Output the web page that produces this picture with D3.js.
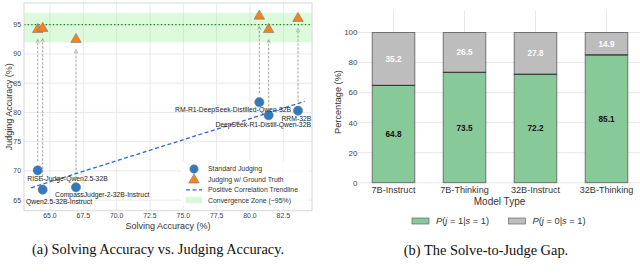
<!DOCTYPE html>
<html><head><meta charset="utf-8">
<script src="https://cdn.jsdelivr.net/npm/d3@7"></script>
<style>body{margin:0;background:#fff}svg{display:block}</style>
</head><body>
<svg id="c" width="640" height="278"></svg>
<script>
// ---------- data: left panel ----------
const models = ["RISE-Judge-Qwen2.5-32B","Qwen2.5-32B-Instruct","CompassJudger-2-32B-Instruct","RM-R1-DeepSeek-Distilled-Qwen-32B","DeepSeek-R1-Distill-Qwen-32B","RRM-32B"];
const solving = [64.08, 64.45, 66.95, 80.7, 81.4, 83.6];
const standardJudging = [70.1, 66.8, 67.2, 81.75, 79.5, 80.3];
const gtJudging = [94.3, 94.5, 92.6, 96.6, 94.3, 96.2];
const xTicksA = [65.0, 67.5, 70.0, 72.5, 75.0, 77.5, 80.0, 82.5];
const yTicksA = [65, 70, 75, 80, 85, 90, 95];
const zone = [92, 97];
const zoneLine = 95;
// ---------- data: right panel ----------
const modelTypes = ["7B-Instruct","7B-Thinking","32B-Instruct","32B-Thinking"];
const pJ1 = [64.8, 73.5, 72.2, 85.1];
const pJ0 = [35.2, 26.5, 27.8, 14.9];
const yTicksB = [0, 20, 40, 60, 80, 100];

const svg = d3.select("#c");
const SANS = "Liberation Sans, Arial, sans-serif";
const SERIF = "Liberation Serif, Times New Roman, serif";
const gridC = "#e8e8e8";

// ================= LEFT =================
const L = {l:24, r:312, t:3, b:210.7};
const x = d3.scaleLinear().domain([63.05, 84.65]).range([L.l, L.r]);
const y = d3.scaleLinear().domain([63.2, 98.7]).range([L.b, L.t]);
const gA = svg.append("g");
gA.append("rect").attr("x",L.l).attr("y",L.t).attr("width",L.r-L.l).attr("height",L.b-L.t).attr("fill","#fff");
// grid
gA.selectAll(".gx").data(xTicksA).join("line").attr("x1",d=>x(d)).attr("x2",d=>x(d)).attr("y1",L.t).attr("y2",L.b).attr("stroke",gridC).attr("stroke-width",1);
gA.selectAll(".gy").data(yTicksA).join("line").attr("y1",d=>y(d)).attr("y2",d=>y(d)).attr("x1",L.l).attr("x2",L.r).attr("stroke",gridC).attr("stroke-width",1);
// zone
gA.append("rect").attr("x",L.l).attr("width",L.r-L.l).attr("y",y(zone[1])).attr("height",y(zone[0])-y(zone[1])).attr("fill","#90ee90").attr("opacity",0.3);
gA.append("line").attr("x1",L.l).attr("x2",L.r).attr("y1",y(zoneLine)).attr("y2",y(zoneLine)).attr("stroke","#1a8a1a").attr("stroke-width",1.4).attr("stroke-dasharray","1.4,2.2");
// frame
gA.append("rect").attr("x",L.l).attr("y",L.t).attr("width",L.r-L.l).attr("height",L.b-L.t).attr("fill","none").attr("stroke","#d8d8d8").attr("stroke-width",1);
// tick labels
gA.selectAll(".tx").data(xTicksA).join("text").attr("x",d=>x(d)).attr("y",L.b+7.5).attr("text-anchor","middle").attr("font-family",SANS).attr("font-size",6.9).attr("fill","#444").text(d=>d.toFixed(1));
gA.selectAll(".ty").data(yTicksA).join("text").attr("x",L.l-3).attr("y",d=>y(d)+2.4).attr("text-anchor","end").attr("font-family",SANS).attr("font-size",6.9).attr("fill","#444").text(d=>d);
gA.append("text").attr("x",(L.l+L.r)/2).attr("y",229.3).attr("text-anchor","middle").attr("font-family",SANS).attr("font-size",9).attr("fill","#333").text("Solving Accuracy (%)");
gA.append("text").attr("transform",`translate(12,${(L.t+L.b)/2}) rotate(-90)`).attr("text-anchor","middle").attr("font-family",SANS).attr("font-size",9).attr("fill","#333").text("Judging Accuracy (%)");
// arrows
const defs = svg.append("defs");
defs.append("marker").attr("id","ah").attr("viewBox","0 0 10 10").attr("refX",9).attr("refY",5).attr("markerWidth",5).attr("markerHeight",5).attr("orient","auto")
  .append("path").attr("d","M1,1 L9,5 L1,9").attr("fill","none").attr("stroke","#999").attr("stroke-width",1.5);
gA.selectAll(".arr").data(models).join("line")
  .attr("x1",(d,i)=>x(solving[i])).attr("x2",(d,i)=>x(solving[i]))
  .attr("y1",(d,i)=>y(standardJudging[i])-9).attr("y2",(d,i)=>y(gtJudging[i])+11)
  .attr("stroke","#9a9a9a").attr("stroke-width",0.9).attr("stroke-dasharray","2.5,1.5").attr("marker-end","url(#ah)");
// trendline (least squares)
const mx = d3.mean(solving), my = d3.mean(standardJudging);
const slope = d3.sum(solving.map((v,i)=>(v-mx)*(standardJudging[i]-my))) / d3.sum(solving.map(v=>(v-mx)**2));
const icpt = my - slope*mx;
const tx0 = d3.min(solving)-0.5, tx1 = d3.max(solving)+0.5;
gA.append("line").attr("x1",x(tx0)).attr("y1",y(icpt+slope*tx0)).attr("x2",x(tx1)).attr("y2",y(icpt+slope*tx1))
  .attr("stroke","#3366dd").attr("stroke-width",1.3).attr("stroke-dasharray","4,2.5");
// circles
gA.selectAll(".pt").data(models).join("circle").attr("cx",(d,i)=>x(solving[i])).attr("cy",(d,i)=>y(standardJudging[i])).attr("r",4.6)
  .attr("fill","#2f7bbf").attr("stroke","#777").attr("stroke-width",0.6);
// triangles
const tri = d3.symbol().type(d3.symbolTriangle).size(48);
gA.selectAll(".tr").data(models).join("path").attr("d",tri).attr("transform",(d,i)=>`translate(${x(solving[i])},${y(gtJudging[i])+0.8})`)
  .attr("fill","#f6821f").attr("stroke","#777").attr("stroke-width",0.6);
// point labels
const labPos = [
  {dx:-10.5, dy:8.7, a:"start"},
  {dx:-16.7, dy:11.7, a:"start"},
  {dx:-21, dy:7.7, a:"start"},
  {dx:31.7, dy:7.7, a:"end"},
  {dx:42.3, dy:9.4, a:"end"},
  {dx:13.3, dy:7.7, a:"end"}
];
gA.selectAll(".lb").data(models).join("text")
  .attr("x",(d,i)=>x(solving[i])+labPos[i].dx).attr("y",(d,i)=>y(standardJudging[i])+labPos[i].dy+2.4)
  .attr("text-anchor",(d,i)=>labPos[i].a).attr("font-family",SANS).attr("font-size",6.8).attr("fill","#222").text(d=>d);
// legend
const lg = gA.append("g").attr("transform","translate(181,161)");
lg.append("rect").attr("x",0).attr("y",0).attr("width",128).attr("height",45).attr("fill","#fff").attr("opacity",0.8);
const legItems = ["Standard Judging","Judging w/ Ground Truth","Positive Correlation Trendline","Convergence Zone (~95%)"];
legItems.forEach((t,i)=>{
  const yy = 8+i*10.4;
  if(i===0) lg.append("circle").attr("cx",13).attr("cy",yy).attr("r",4.2).attr("fill","#2f7bbf").attr("stroke","#777").attr("stroke-width",0.6);
  if(i===1) lg.append("path").attr("d",tri).attr("transform",`translate(13,${yy+0.6})`).attr("fill","#f6821f").attr("stroke","#777").attr("stroke-width",0.6);
  if(i===2) lg.append("line").attr("x1",5).attr("x2",21).attr("y1",yy).attr("y2",yy).attr("stroke","#3366dd").attr("stroke-width",1.3).attr("stroke-dasharray","4,2.5");
  if(i===3) lg.append("rect").attr("x",5).attr("y",yy-3).attr("width",16).attr("height",6).attr("fill","#90ee90").attr("opacity",0.35).attr("stroke","#90ee90").attr("stroke-dasharray","1,1").attr("stroke-width",0.6);
  lg.append("text").attr("x",27).attr("y",yy+2.4).attr("font-family",SANS).attr("font-size",6.9).attr("fill","#333").text(t);
});
svg.append("text").attr("x",158).attr("y",254).attr("text-anchor","middle").attr("font-family",SERIF).attr("font-size",14.4).attr("fill","#111").text("(a) Solving Accuracy vs. Judging Accuracy.");

// ================= RIGHT =================
const R = {l:358, r:642, t:10, b:182.7};
const xb = d3.scaleBand().domain(modelTypes).range([R.l, R.r]).paddingInner(0.4).paddingOuter(0.2);
const yb = d3.scaleLinear().domain([0,115]).range([R.b, R.t]);
const gB = svg.append("g");
gB.selectAll(".gv").data(modelTypes).join("line").attr("x1",d=>xb(d)+xb.bandwidth()/2).attr("x2",d=>xb(d)+xb.bandwidth()/2).attr("y1",R.t).attr("y2",R.b).attr("stroke",gridC);
gB.selectAll(".gh").data(yTicksB).join("line").attr("y1",d=>yb(d)).attr("y2",d=>yb(d)).attr("x1",R.l).attr("x2",R.r).attr("stroke",gridC);
gB.selectAll(".ty").data(yTicksB).join("text").attr("x",R.l-0.5).attr("y",d=>yb(d)+2.9).attr("text-anchor","end").attr("font-family",SANS).attr("font-size",8).attr("fill","#444").text(d=>d);
// bars
const green = "#88c999", grey = "#bdbdbd";
gB.selectAll(".b1").data(modelTypes).join("rect").attr("x",d=>xb(d)).attr("width",xb.bandwidth())
  .attr("y",(d,i)=>yb(pJ1[i])).attr("height",(d,i)=>yb(0)-yb(pJ1[i])).attr("fill",green).attr("stroke","#666").attr("stroke-width",0.9);
gB.selectAll(".b0").data(modelTypes).join("rect").attr("x",d=>xb(d)).attr("width",xb.bandwidth())
  .attr("y",(d,i)=>yb(pJ1[i]+pJ0[i])).attr("height",(d,i)=>yb(pJ1[i])-yb(pJ1[i]+pJ0[i])).attr("fill",grey).attr("stroke","#666").attr("stroke-width",0.9);
gB.selectAll(".sep").data(modelTypes).join("line").attr("x1",d=>xb(d)).attr("x2",d=>xb(d)+xb.bandwidth())
  .attr("y1",(d,i)=>yb(pJ1[i])).attr("y2",(d,i)=>yb(pJ1[i])).attr("stroke","#333").attr("stroke-width",1);
gB.selectAll(".l1").data(modelTypes).join("text").attr("x",d=>xb(d)+xb.bandwidth()/2).attr("y",(d,i)=>yb(pJ1[i]/2)+3)
  .attr("text-anchor","middle").attr("font-family",SANS).attr("font-weight","bold").attr("font-size",8.2).attr("fill","#111").text((d,i)=>pJ1[i].toFixed(1));
gB.selectAll(".l0").data(modelTypes).join("text").attr("x",d=>xb(d)+xb.bandwidth()/2).attr("y",(d,i)=>yb(pJ1[i]+pJ0[i]/2)+3)
  .attr("text-anchor","middle").attr("font-family",SANS).attr("font-weight","bold").attr("font-size",8.2).attr("fill","#fff").text((d,i)=>pJ0[i].toFixed(1));
gB.selectAll(".tx").data(modelTypes).join("text").attr("x",d=>xb(d)+xb.bandwidth()/2).attr("y",192.6)
  .attr("text-anchor","middle").attr("font-family",SANS).attr("font-size",9.1).attr("fill","#333").text(d=>d);
gB.append("text").attr("x",(R.l+R.r)/2-0.5).attr("y",205.3).attr("text-anchor","middle").attr("font-family",SANS).attr("font-size",10).attr("fill","#333").text("Model Type");
gB.append("text").attr("transform",`translate(340.5,102) rotate(-90)`).attr("text-anchor","middle").attr("font-family",SANS).attr("font-size",9.2).attr("fill","#333").text("Percentage (%)");
// legend
const legB = [{c:green, j:"1", x:412},{c:grey, j:"0", x:508.5}];
legB.forEach(o=>{
  gB.append("rect").attr("x",o.x).attr("y",218).attr("width",17).attr("height",6).attr("fill",o.c).attr("stroke","#666").attr("stroke-width",0.7);
  const t = gB.append("text").attr("x",o.x+24).attr("y",224.3).attr("font-family",SANS).attr("font-size",9.3).attr("fill","#333");
  t.append("tspan").attr("font-style","italic").text("P");
  t.append("tspan").text("(");
  t.append("tspan").attr("font-style","italic").text("j");
  t.append("tspan").text(" = "+o.j+"|");
  t.append("tspan").attr("font-style","italic").text("s");
  t.append("tspan").text(" = 1)");
});
svg.append("text").attr("x",486).attr("y",254.5).attr("text-anchor","middle").attr("font-family",SERIF).attr("font-size",14.4).attr("fill","#111").text("(b) The Solve-to-Judge Gap.");
</script>
</body></html>
